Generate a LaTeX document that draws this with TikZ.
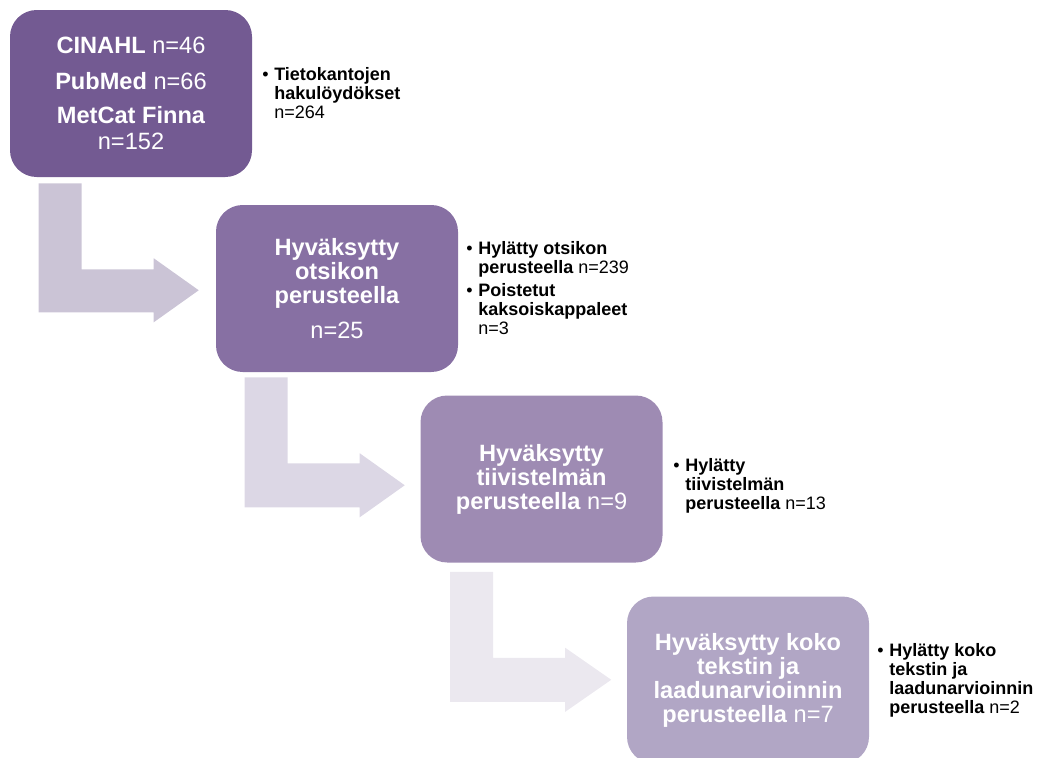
\documentclass[tikz,border=0pt]{standalone}
\usepackage{fontspec}
\setmainfont{Liberation Sans}
\usepackage{tikz}
\usetikzlibrary{positioning}
\usetikzlibrary{calc}
\usepackage{xcolor}

\definecolor{stepA}{HTML}{735A92}
\definecolor{stepB}{HTML}{8770A3}
\definecolor{stepC}{HTML}{9E8BB3}
\definecolor{stepD}{HTML}{B1A6C5}
\definecolor{flowA}{HTML}{CBC4D6}
\definecolor{flowB}{HTML}{DCD7E5}
\definecolor{flowC}{HTML}{EBE8EF}

\newcommand{\bul}{\makebox[9pt][l]{\textbullet}}
\newcommand{\ind}{\hspace*{9pt}}

\begin{document}
\begin{tikzpicture}[
		x=0.75pt, y=-0.75pt,
		% Style definitions
		stage/.style={rounded corners=20pt, minimum width=181.5pt, minimum height=125.25pt,
			inner sep=0pt, text=white, align=center, font=\fontsize{17.7}{18}\selectfont\bfseries},
		note/.style={anchor=north west, inner sep=0pt, align=left,
			font=\fontsize{13.5}{14.2}\selectfont},
		]
		\clip (0,0) rectangle (1045,757);

		% === Stage boxes (stepping down to the right) ===
		\node[stage, fill=stepA, font=\fontsize{17.7}{19.5}\selectfont\bfseries] (search) at (131,93.5)
			{CINAHL \textmd{n=46}\\[7.5pt] PubMed \textmd{n=66}\\[5.5pt] MetCat Finna\\ \textmd{n=152}};
		\node[stage, fill=stepB] (title) at (337,288.5)
			{Hyväksytty\\ otsikon\\ perusteella\\[8pt] \textmd{n=25}};
		\node[stage, fill=stepC] (abstract) at (541.5,479)
			{Hyväksytty\\ tiivistelmän\\ perusteella \textmd{n=9}};
		\node[stage, fill=stepD] (fulltext) at (748,680)
			{Hyväksytty koko\\ tekstin ja\\ laadunarvioinnin\\ perusteella \textmd{n=7}};

		% === Bent arrows between stages ===
		\fill[flowA] ($(search.south west)+(29,6)$) -- ++(43,0) -- ++(0,86) -- ++(72,0) -- ++(0,-11)
			-- ++(45,32) -- ++(-45,32) -- ++(0,-10) -- ++(-115,0) -- cycle;
		\fill[flowB] ($(title.south west)+(29,5)$) -- ++(43,0) -- ++(0,86) -- ++(72,0) -- ++(0,-10)
			-- ++(45,32) -- ++(-45,32) -- ++(0,-10) -- ++(-115,0) -- cycle;
		\fill[flowC] ($(abstract.south west)+(30,9)$) -- ++(43,0) -- ++(0,86) -- ++(72,0) -- ++(0,-10)
			-- ++(46,32) -- ++(-46,32) -- ++(0,-10) -- ++(-115,0) -- cycle;

		% === Side notes ===
		\node[note] (searchnote) at (262,67.5)
			{\bul\textbf{Tietokantojen}\\ \ind\textbf{hakulöydökset}\\ \ind n=264};
		\node[note] (titlenote) at (466,241.5)
			{\bul\textbf{Hylätty otsikon}\\ \ind\textbf{perusteella} n=239\\[3pt]
			\bul\textbf{Poistetut}\\ \ind\textbf{kaksoiskappaleet}\\ \ind n=3};
		\node[note] (abstractnote) at (673,458.5)
			{\bul\textbf{Hylätty}\\ \ind\textbf{tiivistelmän}\\ \ind\textbf{perusteella} n=13};
		\node[note] (fulltextnote) at (877,643)
			{\bul\textbf{Hylätty koko}\\ \ind\textbf{tekstin ja}\\ \ind\textbf{laadunarvioinnin}\\ \ind\textbf{perusteella} n=2};

	\end{tikzpicture}
\end{document}
